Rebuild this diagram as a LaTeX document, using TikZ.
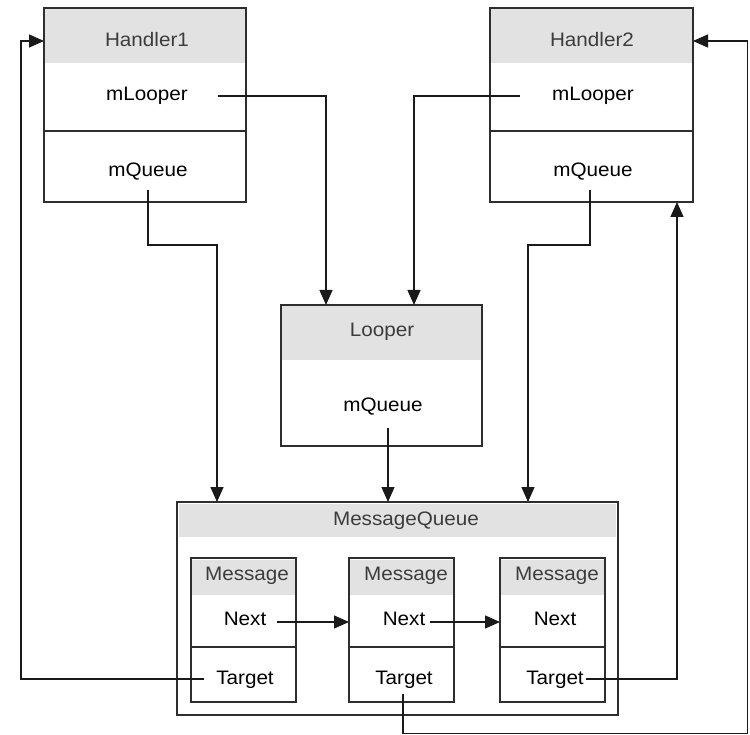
\documentclass[tikz,border=0pt]{standalone}
\usepackage{fontspec}
\setmainfont{Liberation Sans}[FakeStretch=1.06]
\usetikzlibrary{arrows.meta,calc}

\definecolor{boxline}{HTML}{2E2E2E}
\definecolor{headgray}{HTML}{E2E2E2}
\definecolor{titlegray}{HTML}{3C3C3C}
\definecolor{linkgray}{HTML}{1A1A1A}

\begin{document}
\begin{tikzpicture}[x=1pt,y=-1pt,
  frame/.style={draw=boxline,line width=1.5pt,minimum width=#1,anchor=north west,inner sep=0,outer sep=0},
  rule/.style={draw=boxline,line width=1.5pt},
  lbl/.style={font=\fontsize{19.5}{23}\selectfont,text=black,inner sep=0},
  hlbl/.style={lbl,text=titlegray},
  link/.style={draw=linkgray,line width=1.4pt,-{Triangle[length=15pt,width=13pt]}}]
\useasboundingbox (0,0) rectangle (750,735);

% ---------- Handler1 ----------
\fill[headgray] (45,9) rectangle (245,63);
\node[frame=202pt,minimum height=194pt] (h1) at (44,8) {};
\draw[rule] (44,131) -- (246,131);
\node[hlbl] (h1t) at (147,40) {Handler1};
\node[lbl] (h1l) at (147,96) {mLooper};
\node[lbl] (h1q) at (148,172) {mQueue};

% ---------- Handler2 ----------
\fill[headgray] (491,9) rectangle (692,63);
\node[frame=203pt,minimum height=194pt] (h2) at (490,8) {};
\draw[rule] (490,131) -- (693,131);
\node[hlbl] (h2t) at (592,40) {Handler2};
\node[lbl] (h2l) at (593,96) {mLooper};
\node[lbl] (h2q) at (593,172) {mQueue};

% ---------- Looper ----------
\fill[headgray] (282,306) rectangle (481,360);
\node[frame=201pt,minimum height=141pt] (looper) at (281,305) {};
\node[hlbl] (lpt) at (382,332) {Looper};
\node[lbl] (lpq) at (383,407) {mQueue};

% ---------- MessageQueue ----------
\fill[headgray] (179,504) rectangle (616,537);
\node[frame=441pt,minimum height=213pt,line width=1.9pt] (mq) at (177,502) {};
\node[hlbl] (mqt) at (406,521) {MessageQueue};

% ---------- Messages ----------
\foreach \n/\x/\cx in {1/191/245, 2/349/404, 3/500/555}{
  \fill[headgray] (\x+1,560) rectangle (\x+104,595);
  \node[frame=105pt,minimum height=144pt] (m\n) at (\x,558) {};
  \draw[rule] (\x,647) -- (\x+105,647);
  \node[hlbl] (m\n t) at (\cx+2,576) {Message};
  \node[lbl] (m\n n) at (\cx,619) {Next};
  \node[lbl] (m\n g) at (\cx,680) {Target};
}

% ---------- start points of the connectors ----------
\coordinate (h1lout) at (218,96);
\coordinate (h2lout) at (520,96);
\coordinate (h1qout) at (148,190);
\coordinate (h2qout) at (590,190);
\coordinate (lpqout) at (388,428);
\coordinate (n1out) at (277,622);
\coordinate (n2out) at (430,622);
\coordinate (t1out) at (204,679);
\coordinate (t2out) at (403,694);
\coordinate (t3out) at (586,679);

% ---------- connectors ----------
\draw[link] (h1lout) -| ([xshift=-55.5pt]looper.north);
\draw[link] (h2lout) -| ([xshift=32.5pt]looper.north);
\draw[link] (h1qout) -- (148,245) -| ([xshift=-180.5pt]mq.north);
\draw[link] (h2qout) -- (590,245) -| ([xshift=130.5pt]mq.north);
\draw[link] (lpqout) -- (lpqout |- mq.north);
\draw[link] (n1out) -- (n1out -| m2.west);
\draw[link] (n2out) -- (n2out -| m3.west);
\draw[link] (t1out) -| ([xshift=-23pt,yshift=-33pt]h1.north west) -- ([yshift=-33pt]h1.north west);
\draw[link] (t3out) -| ([xshift=-16pt]h2.south east);
\draw[link] (t2out) -- (403,733.5) -- (747.5,733.5) -- (747.5,41) -- ([yshift=-33pt]h2.north east);
\end{tikzpicture}
\end{document}
